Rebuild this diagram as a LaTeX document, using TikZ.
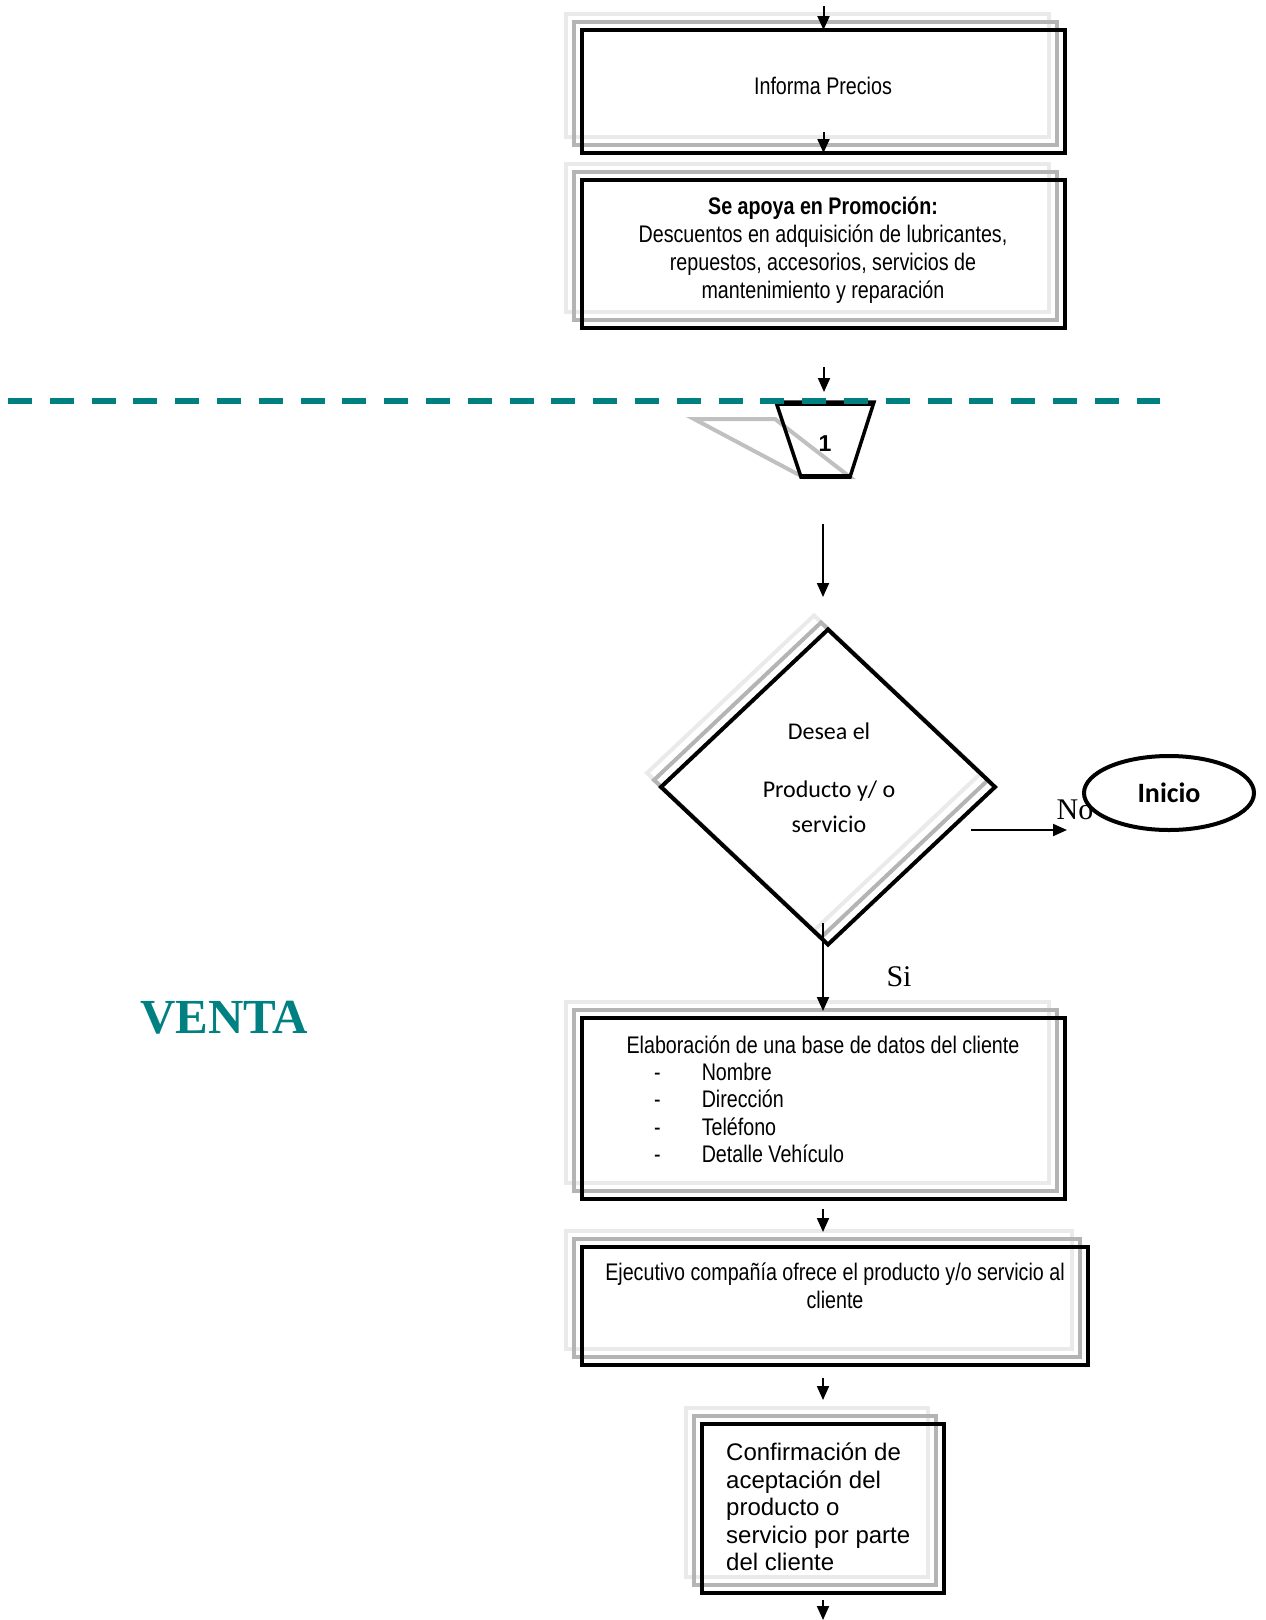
\documentclass[tikz,border=0pt]{standalone}
\usepackage{fontspec}
\setmainfont{Liberation Sans}
\newfontfamily\narrowsans[FakeStretch=0.82]{Liberation Sans}
\newfontfamily\calibrifont{Carlito}
\newfontfamily\romanfont{Liberation Serif}
\usetikzlibrary{arrows.meta,shapes.geometric}
\definecolor{vteal}{RGB}{0,128,128}
\definecolor{shadowmid}{RGB}{180,180,180}
\definecolor{shadowlight}{RGB}{234,234,234}
\definecolor{connshadow}{RGB}{192,192,192}
\pgfdeclarelayer{background}
\pgfsetlayers{background,main}

% two stacked outline shadows offset up and to the left of a box
\newcommand\rectshadows[1]{%
  \draw[shlight] ([shift={(-16,-16)}]#1.north west) rectangle ([shift={(-16,-16)}]#1.south east);
  \draw[shmid] ([shift={(-8,-8)}]#1.north west) rectangle ([shift={(-8,-8)}]#1.south east);}

\begin{document}
\begin{tikzpicture}[x=1pt,y=-1pt,
  procbox/.style={draw=black, line width=4pt, rectangle, outer sep=0pt, inner sep=0pt},
  boxtext/.style={font=\narrowsans\fontsize{24}{28}\selectfont, align=center, inner sep=0pt},
  flow/.style={line width=2pt, -{Triangle[width=12pt,length=14pt]}},
  shmid/.style={draw=shadowmid, line width=4pt},
  shlight/.style={draw=shadowlight, line width=4pt},
  label text/.style={font=\romanfont\fontsize{30}{32}\selectfont, inner sep=0pt},
  dtext/.style={font=\calibrifont\fontsize{24}{26}\selectfont, inner sep=0pt},
]
\useasboundingbox (0,0) rectangle (1266,1620);

% process boxes
\node[procbox, minimum width=483pt, minimum height=123pt] (b1) at (823.5,91.5) {};
\node[boxtext] (t1) at (823,86) {Informa Precios};

\node[procbox, minimum width=483pt, minimum height=148pt] (b2) at (823.5,254) {};
\node[boxtext] (t2) at (823,250) {\textbf{Se apoya en Promoción:}\\
  Descuentos en adquisición de lubricantes,\\
  repuestos, accesorios, servicios de\\
  mantenimiento y reparación};

% off-page connector
\node[font=\bfseries\fontsize{23}{25}\selectfont, inner sep=0pt] (conn) at (825,444) {1};

% decision
\node[draw=black, line width=4pt, diamond, inner sep=0pt, outer sep=0pt,
      minimum width=334pt, minimum height=315pt] (dia) at (828,787) {};
\node[dtext] (d1) at (829,731) {Desea el};
\node[dtext] (d2) at (829,791) {Producto y/ o};
\node[dtext] (d3) at (829,824) {servicio};

\node[draw=black, line width=4pt, ellipse, inner sep=0pt, outer sep=0pt,
      minimum width=170pt, minimum height=74pt,
      font=\calibrifont\bfseries\fontsize{28}{30}\selectfont] (inicio) at (1169,793) {Inicio};
\node[label text] (no) at (1075,810) {No};
\node[label text] (si) at (899,977) {Si};

\node[procbox, minimum width=483pt, minimum height=181pt] (b3) at (823.5,1108.5) {};
\node[boxtext] (t3h) at (823,1045) {Elaboración de una base de datos del cliente};
\node[boxtext, anchor=west, align=left] (t3l) at (654,1116) {%
  \fontsize{24}{27.4}\selectfont
  \begin{tabular}{@{}l@{\hspace{41pt}}l@{}}
  - & Nombre\\
  - & Dirección\\
  - & Teléfono\\
  - & Detalle Vehículo
  \end{tabular}};

\node[procbox, minimum width=506pt, minimum height=118pt] (b4) at (835,1306) {};
\node[boxtext] (t4) at (835,1286) {Ejecutivo compañía ofrece el producto y/o servicio al\\ cliente};

\node[procbox, minimum width=242pt, minimum height=169pt] (b5) at (823,1508.5) {};
\node[font=\fontsize{24}{27.6}\selectfont, align=left, inner sep=0pt, anchor=west] (t5) at (726,1507) {%
  Confirmación de\\ aceptación del\\ producto o\\ servicio por parte\\ del cliente};

% section title
\node[font=\romanfont\bfseries\fontsize{49}{52}\selectfont, text=vteal, inner sep=0pt] (venta) at (224,1018) {VENTA};

% shadows behind the shapes
\begin{pgfonlayer}{background}
  \rectshadows{b1}
  \rectshadows{b2}
  \rectshadows{b3}
  \rectshadows{b4}
  \rectshadows{b5}
  \draw[shlight] ([shift={(-14,-14)}]dia.north) -- ([shift={(-14,-14)}]dia.east)
     -- ([shift={(-14,-14)}]dia.south) -- ([shift={(-14,-14)}]dia.west) -- cycle;
  \draw[shmid] ([shift={(-7,-7)}]dia.north) -- ([shift={(-7,-7)}]dia.east)
     -- ([shift={(-7,-7)}]dia.south) -- ([shift={(-7,-7)}]dia.west) -- cycle;
  \draw[draw=connshadow, line width=4pt, line join=miter]
     (694,419) -- (775,419) -- (850,477) -- (803,477) -- cycle;
\end{pgfonlayer}

% connector outline, with the lane boundary running across its top
\draw[line width=3.5pt, line join=miter] (776,402) -- (874,402) -- (850,477) -- (801,477) -- cycle;
\draw[line width=5pt] (776,403) -- (874,403);
\draw[line width=5pt] (801,476) -- (850,476);
\draw[vteal, line width=6pt, dash pattern=on 24pt off 17.8pt] (8,401) -- (1160,401);

% flow arrows
\coordinate (a0s) at (823.5,6);
\coordinate (a1s) at (823.5,132);
\coordinate (a2s) at (824,367);
\coordinate (a2e) at (824,392);
\coordinate (a3s) at (823,524);
\coordinate (a3e) at (823,597);
\coordinate (a4s) at (971,830);
\coordinate (a4e) at (1067,830);
\coordinate (a5s) at (823,923);
\coordinate (a5e) at (823,1011);
\coordinate (a6s) at (823,1209);
\coordinate (a6e) at (823,1232);
\coordinate (a7s) at (823,1378);
\coordinate (a7e) at (823,1400);
\coordinate (a8s) at (823,1600);
\coordinate (a8e) at (823,1620);

\draw[flow] (a0s) -- (b1.north);
\draw[flow] (a1s) -- (b1.south);
\draw[flow] (a2s) -- (a2e);
\draw[flow] (a3s) -- (a3e);
\draw[flow] (a4s) -- (a4e);
\draw[flow] (a5s) -- (a5e);
\draw[flow] (a6s) -- (a6e);
\draw[flow] (a7s) -- (a7e);
\draw[flow] (a8s) -- (a8e);
\end{tikzpicture}
\end{document}
